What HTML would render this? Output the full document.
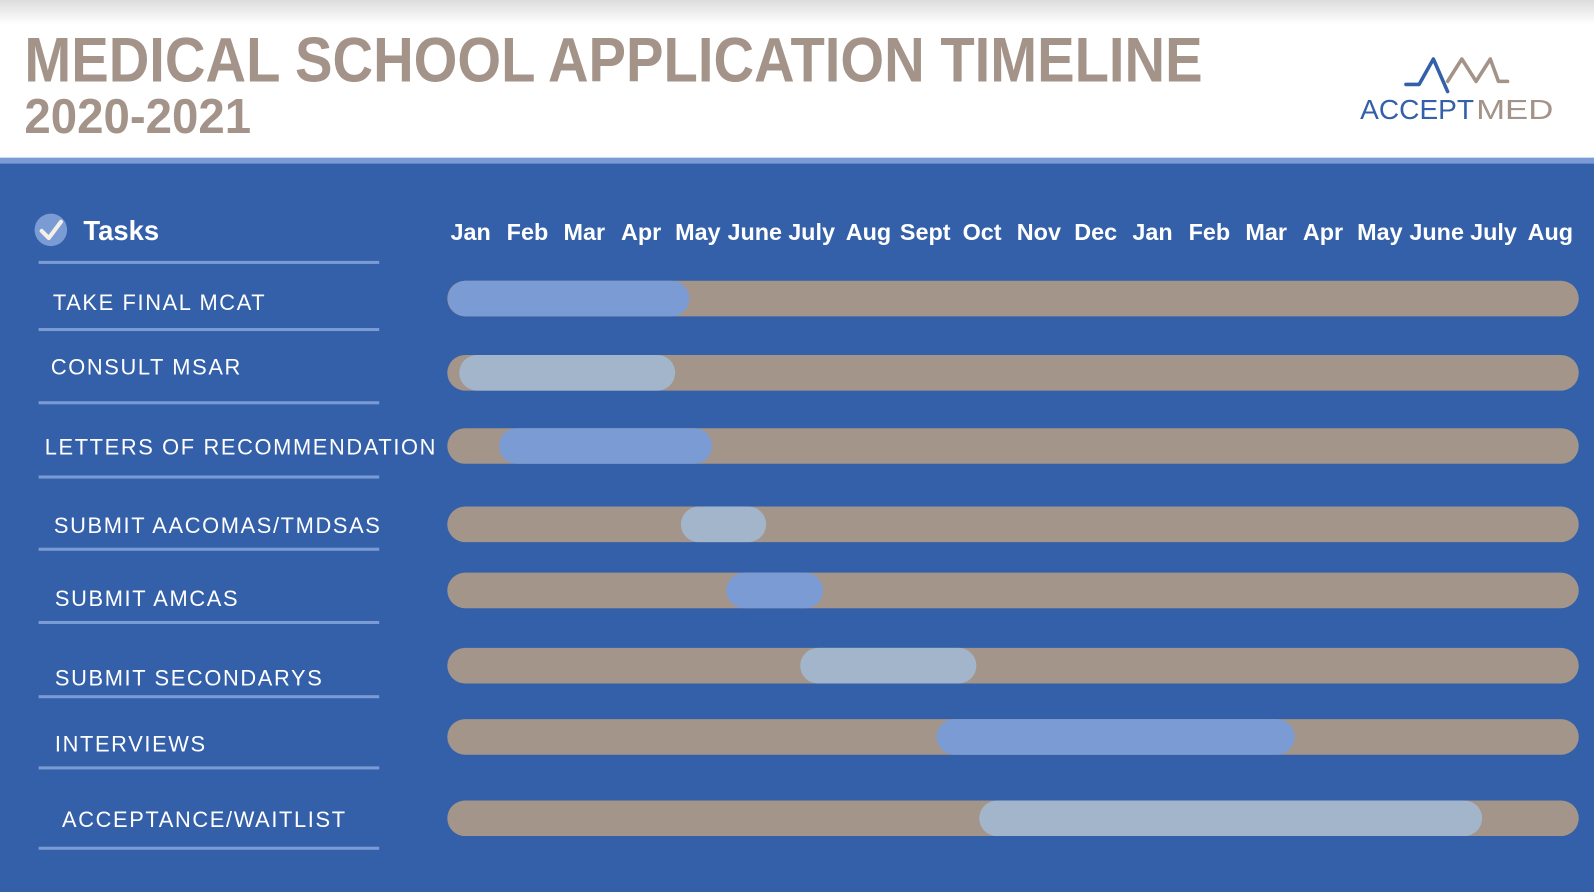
<!DOCTYPE html>
<html><head><meta charset="utf-8">
<style>
html,body{margin:0;padding:0;width:1594px;height:892px;overflow:hidden;background:#3460AA;}
svg{display:block;}
text{font-family:"Liberation Sans",sans-serif;}
</style></head>
<body>
<svg id="chart" width="1594" height="892" viewBox="0 0 1568 877" preserveAspectRatio="none" xmlns="http://www.w3.org/2000/svg">
<defs>
<linearGradient id="hg" x1="0" y1="0" x2="0" y2="1">
<stop offset="0" stop-color="#dcdcdc"/><stop offset="1" stop-color="#ffffff"/>
</linearGradient>
</defs>
<rect x="0" y="0" width="1568" height="156" fill="#fff"/>
<rect x="0" y="0" width="1568" height="24" fill="url(#hg)"/>
<rect x="0" y="155" width="1568" height="6" fill="#7B9BD4"/>
<rect x="0" y="161" width="1568" height="716" fill="#3460AA"/>
<text x="24" y="80" font-size="62" font-weight="bold" fill="#A39389" textLength="1159" lengthAdjust="spacingAndGlyphs">MEDICAL SCHOOL APPLICATION TIMELINE</text>
<text x="24" y="131" font-size="48" font-weight="bold" fill="#A39389" textLength="223" lengthAdjust="spacingAndGlyphs">2020-2021</text>
<g>
<polyline points="1383,83 1396,83 1410,58 1424,90" fill="none" stroke="#3460AA" stroke-width="3.5" stroke-linecap="round" stroke-linejoin="round"/>
<polyline points="1424,80 1438,58 1452,80 1466,58 1474,80 1483,80" fill="none" stroke="#A39389" stroke-width="3.5" stroke-linecap="round" stroke-linejoin="round"/>
<text x="1338" y="117" font-size="27" fill="#3460AA" textLength="112" lengthAdjust="spacingAndGlyphs">ACCEPT</text>
<text x="1452" y="117" font-size="27" fill="#A39389" textLength="76" lengthAdjust="spacingAndGlyphs">MED</text>
</g>
<g>
<circle cx="50" cy="226" r="16" fill="#7B9BD4"/>
<polyline points="41,227 48,234 60,218" fill="none" stroke="#F4EFE8" stroke-width="4" stroke-linecap="round" stroke-linejoin="round"/>
<text x="82" y="236" font-size="27" font-weight="bold" fill="#fff">Tasks</text>
</g>
<g id="labels"></g>
<g id="months"></g>
<g id="bars"></g>
</svg>
<script>
const tasks = ["TAKE FINAL MCAT","CONSULT MSAR","LETTERS OF RECOMMENDATION","SUBMIT AACOMAS/TMDSAS","SUBMIT AMCAS","SUBMIT SECONDARYS","INTERVIEWS","ACCEPTANCE/WAITLIST"];
const months = ["Jan","Feb","Mar","Apr","May","June","July","Aug","Sept","Oct","Nov","Dec","Jan","Feb","Mar","Apr","May","June","July","Aug"];
const startMonth = [0.1, 0.3, 1.0, 4.2, 5.0, 6.3, 8.7, 9.45];
const endMonth = [4.35, 4.1, 4.75, 5.7, 6.7, 9.4, 15.0, 18.3];
const barStyle = ["dark","light","dark","light","dark","light","dark","light"];

const NS="http://www.w3.org/2000/svg";
function xScale(m){return 435 + m*55.9;}
const rowTop=[276,349,421,498,563,637,707,787];
const labelPos=[[52,305],[50,368],[44,447],[53,524],[54,596],[54,674],[54,739],[61,813]];
const linesY=[258,324,396,469,540,612,685,755,834];
function mk(tag,attrs,parent){const e=document.createElementNS(NS,tag);for(const k in attrs)e.setAttribute(k,attrs[k]);parent.appendChild(e);return e;}
const L=document.getElementById('labels'),M=document.getElementById('months'),B=document.getElementById('bars');
linesY.forEach((y,i)=>{
  const r=mk('rect',{x:38,y:y-1.5,width:335,height:3,fill:'#7B9BD4'},L);
  
  
});
tasks.forEach((t,i)=>{
  const e=mk('text',{x:labelPos[i][0],y:labelPos[i][1],'font-size':21.5,fill:'#fff','letter-spacing':'1.6'},L);
  e.textContent=t;
  
  
});
months.forEach((m,i)=>{
  const e=mk('text',{x:xScale(i+0.5),y:236,'font-size':23,'font-weight':'bold',fill:'#fff','text-anchor':'middle'},M);
  e.textContent=m;
  
  
});
tasks.forEach((t,i)=>{
  const y=rowTop[i],h=35;
  const tr=mk('rect',{x:440,y:y,width:1113,height:h,rx:h/2,fill:'#A39589'},B);
  
  
  const x0=Math.max(440,xScale(startMonth[i])),x1=xScale(endMonth[i]);
  const b=mk('rect',{x:x0,y:y,width:x1-x0,height:h,rx:h/2,fill:barStyle[i]==='dark'?'#7B9BD4':'#A3B5CB'},B);
  
  
});
</script>
</body></html>
